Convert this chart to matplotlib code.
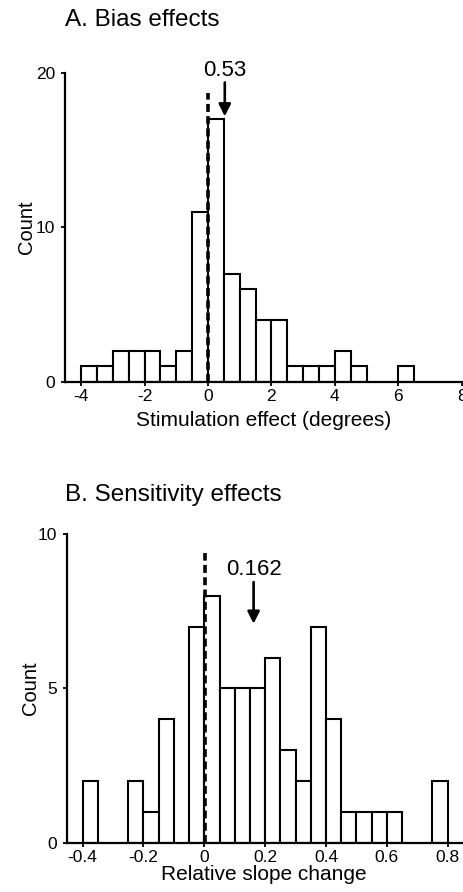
import matplotlib
matplotlib.use("Agg")
import matplotlib.pyplot as plt

plt.rcParams['font.family'] = ['Liberation Sans', 'DejaVu Sans']
plt.rcParams['axes.unicode_minus'] = False

# Panel A: bias effects (bin width 0.5 deg)
bias_bin_left = [-4.0, -3.5, -3.0, -2.5, -2.0, -1.5, -1.0, -0.5, 0.0, 0.5,
                 1.0, 1.5, 2.0, 2.5, 3.0, 3.5, 4.0, 4.5, 5.0, 5.5, 6.0]
bias_counts = [1, 1, 2, 2, 2, 1, 2, 11, 17, 7,
               6, 4, 4, 1, 1, 1, 2, 1, 0, 0, 1]
bias_width = 0.5
bias_mean = 0.53
bias_xticks = [-4, -2, 0, 2, 4, 6, 8]
bias_yticks = [0, 10, 20]

# Panel B: sensitivity effects (bin width 0.05)
sens_bin_left = [-0.40, -0.35, -0.30, -0.25, -0.20, -0.15, -0.10, -0.05, 0.00, 0.05,
                 0.10, 0.15, 0.20, 0.25, 0.30, 0.35, 0.40, 0.45, 0.50, 0.55,
                 0.60, 0.65, 0.70, 0.75]
sens_counts = [2, 0, 0, 2, 1, 4, 0, 7, 8, 5,
               5, 5, 6, 3, 2, 7, 4, 1, 1, 1,
               1, 0, 0, 2]
sens_width = 0.05
sens_mean = 0.162
sens_xticks = [-0.4, -0.2, 0, 0.2, 0.4, 0.6, 0.8]
sens_xticklabels = ['-0.4', '-0.2', '0', '0.2', '0.4', '0.6', '0.8']
sens_yticks = [0, 5, 10]

fig = plt.figure(figsize=(4.64, 8.92), dpi=100)

def style(ax):
    for s in ['top', 'right']:
        ax.spines[s].set_visible(False)
    for s in ['left', 'bottom']:
        ax.spines[s].set_linewidth(1.6)
    ax.tick_params(direction='out', length=3, width=1.3, labelsize=12.5)
    ax.tick_params(axis='x', pad=2)
    ax.tick_params(axis='y', pad=4)

# ---- Panel A ----
axA = fig.add_axes([0.140, 0.572, 0.855, 0.346])
nz = [(l, c) for l, c in zip(bias_bin_left, bias_counts) if c > 0]
axA.bar([l for l, c in nz], [c for l, c in nz], width=bias_width, align='edge',
        facecolor='white', edgecolor='black', linewidth=1.5, zorder=2)
axA.plot([0, 0], [0, 18.7], ls=(0, (2.2, 1.2)), color='black', lw=2.6, zorder=3)
axA.annotate('', xy=(bias_mean, 17.2), xytext=(bias_mean, 19.4),
             arrowprops=dict(arrowstyle='-|>', color='black', lw=1.9,
                             mutation_scale=18, shrinkA=0, shrinkB=0), zorder=4)
axA.text(bias_mean, 20.15, '0.53', ha='center', va='center', fontsize=16)
axA.set_xlim(-4.51, 8.0)
axA.set_ylim(0, 20)
axA.set_xticks(bias_xticks)
axA.set_yticks(bias_yticks)
style(axA)
axA.set_xlabel('Stimulation effect (degrees)', fontsize=15, labelpad=5.5)
axA.set_ylabel('Count', fontsize=14.5, labelpad=0)
fig.text(0.140, 0.978, 'A. Bias effects', fontsize=17.5, ha='left', va='center')

# ---- Panel B ----
axB = fig.add_axes([0.144, 0.0553, 0.851, 0.3457])
nz = [(l, c) for l, c in zip(sens_bin_left, sens_counts) if c > 0]
axB.bar([l for l, c in nz], [c for l, c in nz], width=sens_width, align='edge',
        facecolor='white', edgecolor='black', linewidth=1.5, zorder=2)
axB.plot([0.003, 0.003], [0, 9.38], ls=(0, (2.2, 1.2)), color='black', lw=2.6, zorder=3)
axB.annotate('', xy=(sens_mean, 7.1), xytext=(sens_mean, 8.45),
             arrowprops=dict(arrowstyle='-|>', color='black', lw=1.9,
                             mutation_scale=18, shrinkA=0, shrinkB=0), zorder=4)
axB.text(sens_mean, 8.85, '0.162', ha='center', va='center', fontsize=16)
axB.set_xlim(-0.452, 0.846)
axB.set_ylim(0, 10)
axB.set_xticks(sens_xticks)
axB.set_xticklabels(sens_xticklabels)
axB.set_yticks(sens_yticks)
style(axB)
axB.set_xlabel('Relative slope change', fontsize=15, labelpad=0)
axB.set_ylabel('Count', fontsize=14.5, labelpad=-1.5)
fig.text(0.140, 0.445, 'B. Sensitivity effects', fontsize=17.5, ha='left', va='center')

fig.savefig('out.png', dpi=100)
